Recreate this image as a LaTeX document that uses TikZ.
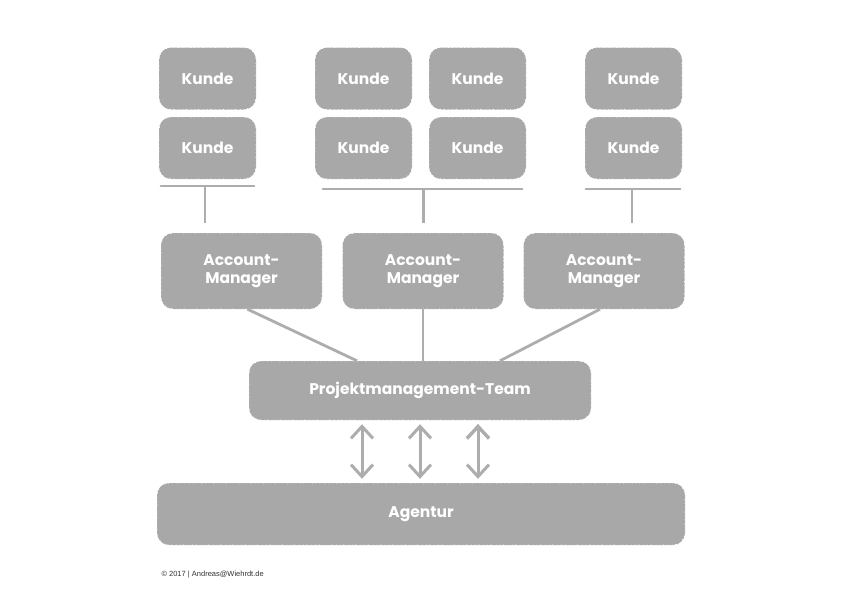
\documentclass[tikz,border=0pt]{standalone}
\usepackage{fontspec}
\setmainfont{Poppins}
\newfontfamily\footfont{Liberation Sans}
\usepackage{tikz}
\usetikzlibrary{arrows.meta,positioning,calc}
\definecolor{chalk}{HTML}{A7A8A7}
\definecolor{chalkline}{HTML}{ADADAD}

\begin{document}
\begin{tikzpicture}[x=1pt,y=-1pt,
	chalk box/.style={fill=chalk,rounded corners=12pt,text=white,font=\bfseries\fontsize{15.5}{17.5}\selectfont,align=center,inner sep=0pt,
		postaction={draw=white,line width=0.9pt,dash pattern=on 0.6pt off 2.7pt on 1.2pt off 4.1pt on 0.4pt off 3.3pt}},
	kunde/.style={chalk box,minimum width=97pt,minimum height=62pt},
	manager/.style={chalk box,minimum width=161pt,minimum height=76pt},
	bar/.style={draw=chalkline,line width=2.5pt,line cap=round},
	link/.style={draw=chalkline,line width=2.8pt},
	both ways/.style={draw=chalkline,line width=3pt,{Straight Barb[length=12pt,width=22pt,line width=3pt]}-{Straight Barb[length=12pt,width=22pt,line width=3pt]}}]

	\useasboundingbox (0,0) rectangle (841,595);

	% Kunden
	\node[kunde] (k11) at (207.5,78.5) {Kunde};
	\node[kunde] (k12) at (207.5,148) {Kunde};
	\node[kunde] (k21) at (363.5,78.5) {Kunde};
	\node[kunde] (k22) at (363.5,148) {Kunde};
	\node[kunde] (k31) at (477.5,78.5) {Kunde};
	\node[kunde] (k32) at (477.5,148) {Kunde};
	\node[kunde] (k41) at (633.5,78.5) {Kunde};
	\node[kunde] (k42) at (633.5,148) {Kunde};

	% Account-Manager
	\node[manager] (am1) at (241.5,271) {Account-\\Manager};
	\node[manager] (am2) at (423,271) {Account-\\Manager};
	\node[manager] (am3) at (604,271) {Account-\\Manager};

	% Team und Agentur
	\node[chalk box,minimum width=342pt,minimum height=59pt] (pm) at (420,390.5) {Projektmanagement-Team};
	\node[chalk box,minimum width=528pt,minimum height=62pt] (ag) at (421,514) {Agentur};

	% Sammelbalken unter den Kunden
	\coordinate (b1) at ($(k12.south)+(-2.5,7)$);
	\coordinate (b2) at ($(k22.south)!0.5!(k32.south)+(3,10)$);
	\coordinate (b3) at ($(k42.south)+(-1.5,10)$);
	\draw[bar] ([shift={(2,7)}]k12.south west) -- ([shift={(-2,7)}]k12.south east);
	\draw[bar] ([shift={(8,10)}]k22.south west) -- ([shift={(-4,10)}]k32.south east);
	\draw[bar] ([shift={(1,10)}]k42.south west) -- ([shift={(-2,10)}]k42.south east);

	\path[link,shorten >=10pt]
	(b1) edge (b1 |- am1.north)
	(b2) edge (b2 |- am2.north)
	(b3) edge (b3 |- am3.north);

	% Verbindungen zum Team
	\path[link]
	([xshift=6pt]am1.south) edge ([xshift=-63pt]pm.north)
	(am2.south) edge (am2.south |- pm.north)
	([xshift=-4pt]am3.south) edge ([xshift=80pt]pm.north);

	% Pfeile Team - Agentur
	\path[both ways,shorten <=4pt,shorten >=4pt]
	([xshift=-58pt]pm.south) edge ([xshift=-59pt]ag.north)
	(pm.south) edge ([xshift=-1pt]ag.north)
	([xshift=58pt]pm.south) edge ([xshift=57pt]ag.north);

	\node[anchor=west,font=\footfont\fontsize{7.5}{9}\selectfont,text=black!80] (copy) at (158,575) {\textcopyright{} 2017 | Andreas@Wiehrdt.de};
\end{tikzpicture}
\end{document}
